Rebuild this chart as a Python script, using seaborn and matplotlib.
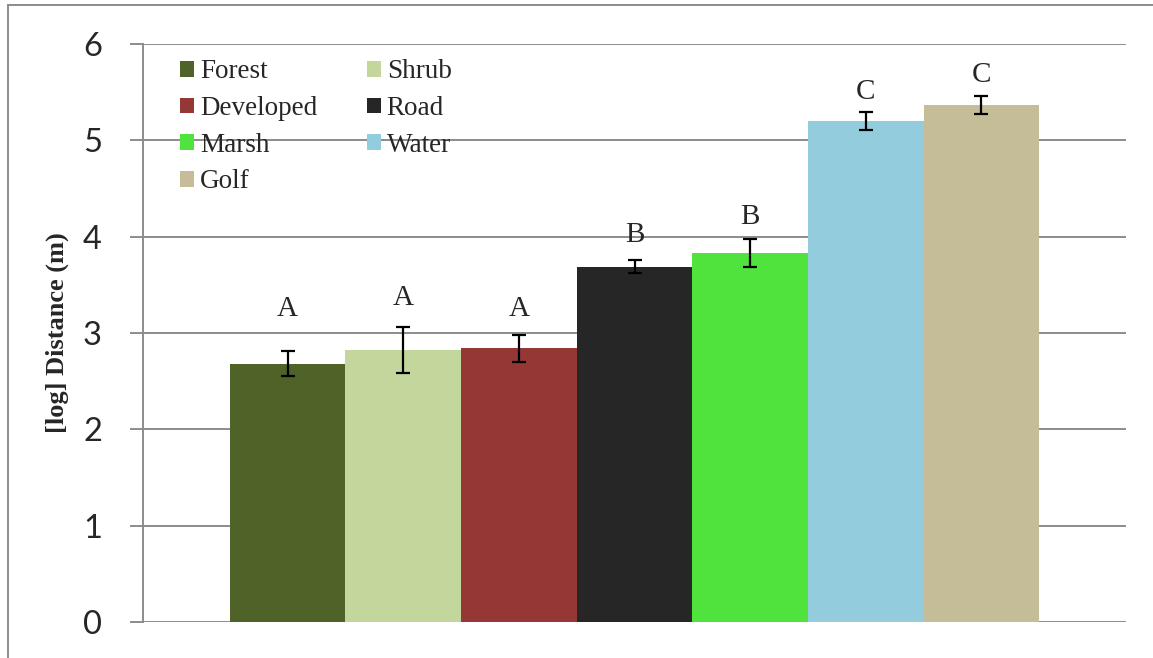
import numpy as np
import pandas as pd
import seaborn as sns
import matplotlib
import matplotlib.pyplot as plt
from matplotlib.patches import Patch, Rectangle

# values
classes = ["Forest", "Shrub", "Developed", "Road", "Marsh", "Water", "Golf"]
means = [2.68, 2.82, 2.84, 3.69, 3.83, 5.20, 5.37]
errors = [0.13, 0.24, 0.14, 0.07, 0.145, 0.09, 0.095]
letters = ["A", "A", "A", "B", "B", "C", "C"]
letter_y = [3.25, 3.36, 3.25, 4.02, 4.20, 5.50, 5.68]
colors = ["#4F6228", "#C3D69B", "#953735", "#262626", "#50E33E", "#93CDDD", "#C4BD97"]
yticks = [0, 1, 2, 3, 4, 5, 6]

df = pd.DataFrame({"cls": classes, "mean": means, "err": errors})

sns.set_theme()
sns.set_style("white")
grid_col = "#8C8C8C"

fig = plt.figure(figsize=(11.53, 6.58), dpi=100)
ax = fig.add_axes([143 / 1153, 1 - 622 / 658, (1126 - 143) / 1153, (622 - 44) / 658])

sns.barplot(data=df, x="cls", y="mean", hue="cls", palette=colors, width=1.0,
            dodge=False, saturation=1, errorbar=None, legend=False, ax=ax,
            linewidth=0, edgecolor="none", zorder=2)
ax.errorbar(np.arange(len(classes)), df["mean"], yerr=df["err"], fmt="none",
            ecolor="black", elinewidth=1.6, capsize=5, capthick=1.6, zorder=3)

# significance letters
for i, (ly, t) in enumerate(zip(letter_y, letters)):
  ax.text(i, ly, t, ha="center", va="center", fontsize=21, family="Liberation Serif")

ax.set_xlim(-1.25, 7.25)
ax.set_ylim(0, 6)
ax.set_yticks(yticks)
ax.set_yticklabels([str(v) for v in yticks], family="Lato", fontsize=23.5)
ax.set_xticks([])
ax.set_xlabel("")
ax.set_ylabel("[log] Distance (m)", family="Liberation Serif", fontweight="bold",
              fontsize=19, labelpad=10)

ax.yaxis.grid(True, color=grid_col, lw=1.4, zorder=0)
ax.set_axisbelow(True)
ax.tick_params(axis="y", length=9.5, width=1.4, color=grid_col, pad=20, left=True)
for s in ["top", "right", "bottom"]:
  ax.spines[s].set_visible(False)
ax.spines["left"].set_color(grid_col)
ax.spines["left"].set_linewidth(1.4)

# legend, filled column by column like the reference
order = [0, 2, 4, 6, 1, 3, 5]
handles = [Patch(facecolor=colors[i], edgecolor="none") for i in order]
labels = [classes[i] for i in order]
ax.legend(handles, labels, ncol=2, loc="upper left", bbox_to_anchor=(0.027, 0.992),
          frameon=False, prop={"family": "Liberation Serif", "size": 19.5},
          handlelength=0.52, handleheight=0.52, handletextpad=0.2,
          columnspacing=1.85, labelspacing=0.43, borderaxespad=0)

# outer chart frame (only left and top visible)
fig.add_artist(Rectangle((8 / 1153, -0.1), 1.2, 1.1 - 5 / 658, transform=fig.transFigure,
                         fill=False, edgecolor=grid_col, lw=1.4))

fig.savefig("out.png", dpi=100)
